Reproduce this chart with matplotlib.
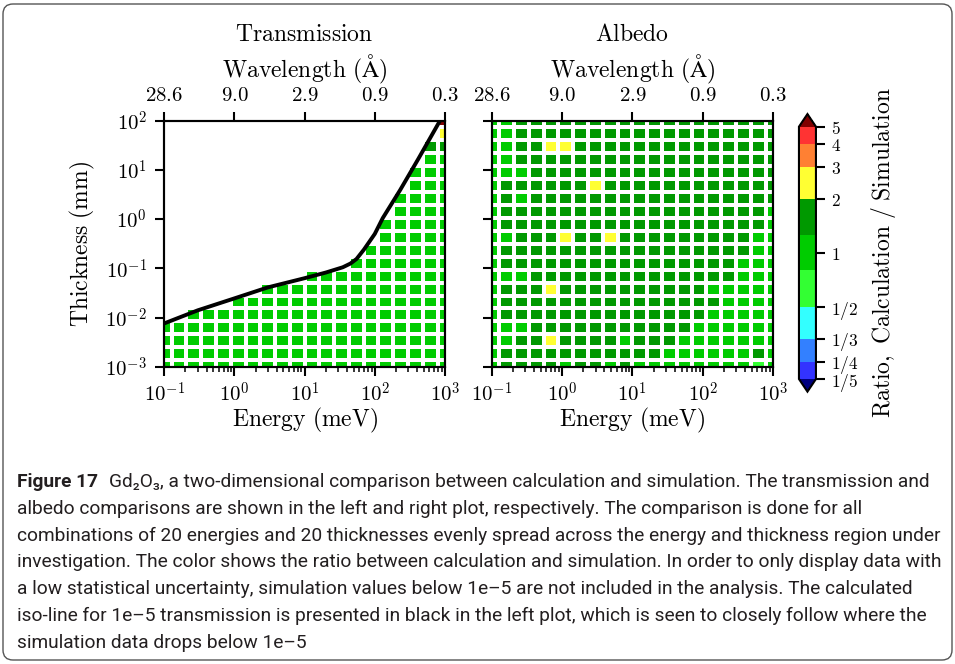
import numpy as np
import matplotlib
matplotlib.use("Agg")
import matplotlib.pyplot as plt
from matplotlib.colors import ListedColormap, BoundaryNorm
from matplotlib.patches import FancyBboxPatch
from matplotlib.ticker import NullLocator
from matplotlib.transforms import IdentityTransform

plt.rcParams["mathtext.fontset"] = "cm"

# ============================
# Data
# ============================
# 20 energies and 20 thicknesses evenly spread (log) over the region
energies = np.logspace(-1, 3, 20)       # meV
thicknesses = np.logspace(-3, 2, 20)    # mm

# iso-line for 1e-5 transmission
iso_energy = [0.1, 0.3, 1, 3, 10, 20, 35, 45, 55, 70, 100, 130, 230, 420, 850]
iso_thick = [0.0076, 0.014, 0.0245, 0.041, 0.063, 0.082, 0.105, 0.125,
             0.155, 0.24, 0.5, 1.05, 3.9, 17, 100]

# cell codes, top row (thickest) first, lowest energy left
# l: 1/2-0.8, g: 0.8-1.25, d: 1.25-2, y: 2-3, r: >5, .: no data
trans_rows = [
    "...................r",
    "...................y",
    "..................dd",
    "..................gg",
    ".................ggg",
    ".................ggg",
    "................gggg",
    "................gggg",
    "...............ggggg",
    "...............ggggg",
    "..............gggggg",
    ".............ggggggg",
    "..........gggggggggg",
    ".......ggggggggggggg",
    ".....ggggggggggggggg",
    "..gggggggggggggggggg",
    "gggggggggggggggggggg",
    "gggggggggggggggggggg",
    "gggggggggggggggggggg",
    "gggggggggggggggggggg",
]
albedo_rows = [
    "ggdddddddddddddddddd",
    "ggdddddddddddddddddd",
    "ggddyydddddddddddddd",
    "ggdddddddddddddddddd",
    "gggddddddddddddddddd",
    "gddddddydddddddddddd",
    "gdgddddddddddddddddd",
    "gddddddddddddddddddg",
    "gddddddddddddddddddg",
    "ggdddyddydddddddddgg",
    "gdddddddddddddddddgg",
    "gddddddddddddddddggg",
    "gggddddddddddddddggg",
    "gdddyddddddddddggggg",
    "gdddddddddddddddgggg",
    "gddddddddddddddggggg",
    "gggdddddddddddgggggg",
    "ggddyddddgdddggggggg",
    "gdddddddddddggggggdg",
    "gddddgddgdgggggggglg",
]
code_ratio = {"l": 0.65, "g": 1.0, "d": 1.5, "y": 2.5, "r": 6.0}

ratio_bounds = [1/5, 1/4, 1/3, 1/2, 0.8, 1.25, 2, 3, 4, 5]
band_colors = ["#3333ff", "#3380ff", "#33ffff", "#33ff33", "#00cc00",
               "#009900", "#ffff33", "#ff8033", "#ff3333"]
under_color = "#00007f"
over_color = "#800000"

cbar_ticks = [1/5, 1/4, 1/3, 1/2, 1, 2, 3, 4, 5]
cbar_ticklabels = ["1/5", "1/4", "1/3", "1/2", "1", "2", "3", "4", "5"]

energy_ticks = [0.1, 1, 10, 100, 1000]
energy_ticklabels = ["10^{-1}", "10^{0}", "10^{1}", "10^{2}", "10^{3}"]
wl_ticklabels = ["28.6", "9.0", "2.9", "0.9", "0.3"]
thick_ticks = [1e-3, 1e-2, 1e-1, 1e0, 1e1, 1e2]
thick_ticklabels = ["10^{-3}", "10^{-2}", "10^{-1}", "10^{0}", "10^{1}", "10^{2}"]

caption_lines = [
    "Gd\u2082O\u2083, a two-dimensional comparison between calculation and simulation. The transmission and",
    "albedo comparisons are shown in the left and right plot, respectively. The comparison is done for all",
    "combinations of 20 energies and 20 thicknesses evenly spread across the energy and thickness region under",
    "investigation. The color shows the ratio between calculation and simulation. In order to only display data with",
    "a low statistical uncertainty, simulation values below 1e\u20135 are not included in the analysis. The calculated",
    "iso-line for 1e\u20135 transmission is presented in black in the left plot, which is seen to closely follow where the",
    "simulation data drops below 1e\u20135",
]


def tex(s):
    return r"$\mathrm{" + s.replace(" ", r"\ ") + "}$"


def math(labels):
    return ["$" + s + "$" for s in labels]


def grid(rows):
    data = np.full((len(rows), len(rows[0])), np.nan)
    for i, row in enumerate(rows[::-1]):
        for j, ch in enumerate(row):
            if ch != ".":
                data[i, j] = np.log10(code_ratio[ch])
    return np.ma.masked_invalid(data)


def log_edges(c):
    lc = np.log10(c)
    d = np.diff(lc)
    mids = (lc[:-1] + lc[1:]) / 2
    return 10 ** np.concatenate([[lc[0] - d[0] / 2], mids, [lc[-1] + d[-1] / 2]])


cmap = ListedColormap(band_colors)
cmap.set_under(under_color)
cmap.set_over(over_color)
cmap.set_bad((1, 1, 1, 0))
norm = BoundaryNorm(np.log10(ratio_bounds), cmap.N)

xe = log_edges(energies)
ye = log_edges(thicknesses)

# ============================
# Figure
# ============================
fig = plt.figure(figsize=(9.55, 6.64), dpi=100)
ax_t = fig.add_axes([0.1720, 0.4477, 0.2939, 0.3705])
ax_a = fig.add_axes([0.5149, 0.4477, 0.2946, 0.3705])
# box includes the extend triangles
cax = fig.add_axes([0.8366, 0.4102, 0.0178, 0.4180])

LBL = 17
TCK = 15

for ax, rows, title in [(ax_t, trans_rows, "Transmission"), (ax_a, albedo_rows, "Albedo")]:
    mesh = ax.pcolormesh(xe, ye, grid(rows), cmap=cmap, norm=norm,
                         edgecolors="white", linewidth=1.5)
    ax.set_xscale("log")
    ax.set_yscale("log")
    ax.set_xlim(0.1, 1000)
    ax.set_ylim(1e-3, 100)
    ax.set_xticks(energy_ticks, labels=math(energy_ticklabels), fontsize=TCK)
    ax.set_yticks(thick_ticks)
    ax.yaxis.set_minor_locator(NullLocator())
    ax.tick_params(which="major", length=6.5, width=1.5, pad=4.5)
    ax.tick_params(which="minor", length=3.5, width=1.1)
    ax.tick_params(axis="y", pad=6)
    for sp in ax.spines.values():
        sp.set_linewidth(1.5)
    ax.set_xlabel(tex("Energy (meV)"), fontsize=LBL)
    ax.xaxis.label.set_va("center")
    ax.xaxis.set_label_coords(0.5, -0.22)

    top = ax.twiny()
    top.set_xscale("log")
    top.set_xlim(ax.get_xlim())
    top.set_xticks(energy_ticks, labels=math(wl_ticklabels), fontsize=TCK)
    top.xaxis.set_minor_locator(NullLocator())
    top.tick_params(which="major", length=6.5, width=1.5, pad=4.5)
    for sp in top.spines.values():
        sp.set_linewidth(1.5)
    top.set_xlabel(tex(r"Wavelength (\AA)"), fontsize=LBL)
    top.xaxis.label.set_va("center")
    top.xaxis.set_label_coords(0.5, 1.21)

    ax.text(0.5, 1.352, tex(title), transform=ax.transAxes,
            ha="center", va="center", fontsize=LBL)

ax_t.set_yticklabels(math(thick_ticklabels), fontsize=TCK)
ax_t.set_ylabel(tex("Thickness (mm)"), fontsize=LBL)
ax_t.yaxis.label.set_va("center")
ax_t.yaxis.set_label_coords(-0.29, 0.5)
ax_a.set_yticklabels([])

# calculated iso-line for 1e-5 transmission
ax_t.plot(iso_energy, iso_thick, color="black", lw=2.8, zorder=3,
          solid_capstyle="round")

# colorbar
cb = fig.colorbar(mesh, cax=cax, extend="both", spacing="proportional",
                  ticks=np.log10(cbar_ticks))
cb.set_ticklabels(math(cbar_ticklabels), fontsize=12.5)
cb.ax.minorticks_off()
cb.ax.tick_params(length=6.5, width=1.5, pad=4)
cb.outline.set_linewidth(1.5)
cb.set_label(tex("Ratio, Calculation / Simulation"), fontsize=LBL)
cb.ax.yaxis.label.set_va("center")
cb.ax.yaxis.set_label_coords(4.95, 0.5)

# ============================
# Caption box
# ============================
box = FancyBboxPatch((3, 4), 949, 656, boxstyle="round,pad=0,rounding_size=10",
                     transform=IdentityTransform(), fill=False,
                     edgecolor="#555555", linewidth=1.0)
fig.add_artist(box)

cap_font = dict(family=["Roboto", "DejaVu Sans"], color="#231f20")
renderer = fig.canvas.get_renderer()

# fit the font size to the widest caption line
cap_size = 12.0
probe = fig.text(0, 0, caption_lines[3], fontsize=cap_size, **cap_font)
for _ in range(4):
    probe.set_fontsize(cap_size)
    w = probe.get_window_extent(renderer).width
    cap_size = cap_size * 924 / w
probe.remove()

x0 = 17
baselines = [487, 514, 541, 567, 594, 621, 648]
lead = fig.text(x0 / 955, 1 - baselines[0] / 664, "Figure 17", fontsize=cap_size,
                fontweight="bold", va="baseline", **cap_font)
lw = lead.get_window_extent(renderer).width
for k, line in enumerate(caption_lines):
    x = x0 + (lw + 0.6 * cap_size * 100 / 72 if k == 0 else 0)
    fig.text(x / 955, 1 - baselines[k] / 664, line, fontsize=cap_size,
             va="baseline", **cap_font)

fig.savefig("out.png", dpi=100)
